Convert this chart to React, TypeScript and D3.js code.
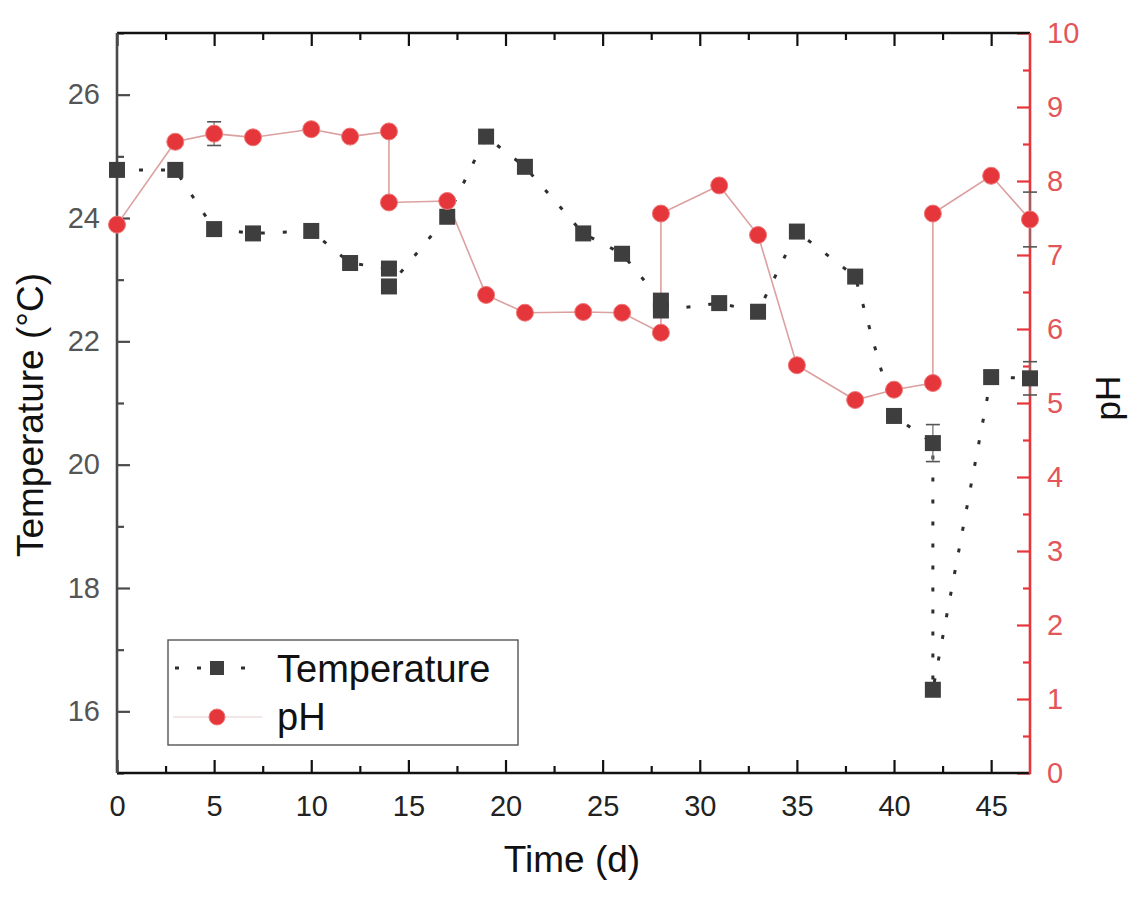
import { useEffect, useRef } from "react";
import * as d3 from "d3";

// days (two readings on days 14, 28 and 42)
const tempDays = [0, 3, 5, 7, 10, 12, 14, 14, 17, 19, 21, 24, 26, 28, 28, 31, 33, 35, 38, 40, 42, 42, 45, 47];
const tempValues = [24.78, 24.78, 23.82, 23.75, 23.79, 23.27, 23.18, 22.89, 24.02, 25.32, 24.83, 23.75, 23.42, 22.66, 22.5, 22.62, 22.48, 23.78, 23.05, 20.79, 20.35, 16.35, 21.42, 21.4];
const tempErrors = [0, 0, 0, 0, 0, 0, 0, 0, 0, 0, 0, 0, 0, 0, 0, 0, 0, 0, 0, 0, 0.3, 0, 0, 0.27];

const phDays = [0, 3, 5, 7, 10, 12, 14, 14, 17, 19, 21, 24, 26, 28, 28, 31, 33, 35, 38, 40, 42, 42, 45, 47];
const phValues = [7.41, 8.53, 8.64, 8.59, 8.7, 8.6, 8.67, 7.71, 7.73, 6.46, 6.22, 6.23, 6.22, 5.95, 7.56, 7.94, 7.27, 5.51, 5.04, 5.18, 5.27, 7.56, 8.07, 7.48];
const phErrors = [0, 0, 0.16, 0, 0, 0, 0, 0, 0, 0, 0, 0, 0, 0, 0, 0, 0, 0, 0, 0, 0, 0, 0, 0.37];

const xTicks = [0, 5, 10, 15, 20, 25, 30, 35, 40, 45];
const xMinorTicks = [2.5, 7.5, 12.5, 17.5, 22.5, 27.5, 32.5, 37.5, 42.5];
const tempTicks = [16, 18, 20, 22, 24, 26];
const tempMinorTicks = [15, 17, 19, 21, 23, 25, 27];
const phTicks = [0, 1, 2, 3, 4, 5, 6, 7, 8, 9, 10];
const phMinorTicks = [0.5, 1.5, 2.5, 3.5, 4.5, 5.5, 6.5, 7.5, 8.5, 9.5];

const legendLabels = ["Temperature", "pH"];

const FONT = "'Liberation Sans', Arial, sans-serif";
const RED = "#e5363c";
const RED_TEXT = "#e2555a";
const LINE_RED = "#dca0a0";
const DARK = "#3e3e3e";

const App: React.FC = () => {
  const svgRef = useRef<SVGSVGElement>(null);

  useEffect(() => {
    document.body.style.margin = "0";
    const width = 1142;
    const height = 901;
    const left = 117;
    const right = 1030;
    const top = 33;
    const bottom = 773;

    const svg = d3.select(svgRef.current).html("");
    svg.attr("width", width).attr("height", height);
    svg.append("rect").attr("width", width).attr("height", height).attr("fill", "#fff");

    const x = d3.scaleLinear().domain([0, 47]).range([left, right]);
    const yT = d3.scaleLinear().domain([15, 27]).range([bottom, top]);
    const yP = d3.scaleLinear().domain([0, 10]).range([bottom, top]);

    const styleAxis = (g: d3.Selection<SVGGElement, unknown, null, undefined>, color: string, textColor: string, size: number) => {
      g.select(".domain").remove();
      g.selectAll(".tick line").attr("stroke", color).attr("stroke-width", 2.2);
      g.selectAll(".tick text")
        .attr("fill", textColor)
        .style("font-family", FONT)
        .style("font-size", `${size}px`);
    };

    // bottom axis
    const gx = svg
      .append("g")
      .attr("transform", `translate(0,${bottom})`)
      .call(d3.axisBottom(x).tickValues(xTicks).tickSize(-13).tickPadding(22).tickFormat((d) => `${d}`));
    styleAxis(gx, "#111", "#222", 29);
    const gxm = svg
      .append("g")
      .attr("transform", `translate(0,${bottom})`)
      .call(d3.axisBottom(x).tickValues(xMinorTicks).tickSize(-7).tickFormat(() => ""));
    styleAxis(gxm, "#111", "#222", 29);

    // top axis (ticks only)
    const gt = svg
      .append("g")
      .attr("transform", `translate(0,${top})`)
      .call(d3.axisTop(x).tickValues(xTicks).tickSize(-13).tickFormat(() => ""));
    styleAxis(gt, "#111", "#222", 29);
    const gtm = svg
      .append("g")
      .attr("transform", `translate(0,${top})`)
      .call(d3.axisTop(x).tickValues(xMinorTicks).tickSize(-7).tickFormat(() => ""));
    styleAxis(gtm, "#111", "#222", 29);

    // left axis (temperature)
    const gl = svg
      .append("g")
      .attr("transform", `translate(${left},0)`)
      .call(d3.axisLeft(yT).tickValues(tempTicks).tickSize(-13).tickPadding(17).tickFormat((d) => `${d}`));
    styleAxis(gl, "#4a4a4a", "#555", 29);
    const glm = svg
      .append("g")
      .attr("transform", `translate(${left},0)`)
      .call(d3.axisLeft(yT).tickValues(tempMinorTicks).tickSize(-7).tickFormat(() => ""));
    styleAxis(glm, "#4a4a4a", "#555", 29);

    // right axis (pH)
    const gr = svg
      .append("g")
      .attr("transform", `translate(${right},0)`)
      .call(d3.axisRight(yP).tickValues(phTicks).tickSize(-13).tickPadding(17).tickFormat((d) => `${d}`));
    styleAxis(gr, RED, RED_TEXT, 29);
    const grm = svg
      .append("g")
      .attr("transform", `translate(${right},0)`)
      .call(d3.axisRight(yP).tickValues(phMinorTicks).tickSize(-7).tickFormat(() => ""));
    styleAxis(grm, RED, RED_TEXT, 29);

    // frame
    svg.append("line").attr("x1", left).attr("x2", right).attr("y1", top).attr("y2", top).attr("stroke", "#111").attr("stroke-width", 2.6);
    svg.append("line").attr("x1", left).attr("x2", right).attr("y1", bottom).attr("y2", bottom).attr("stroke", "#111").attr("stroke-width", 2.6);
    svg.append("line").attr("x1", left).attr("x2", left).attr("y1", top).attr("y2", bottom).attr("stroke", "#4a4a4a").attr("stroke-width", 2.6);
    svg.append("line").attr("x1", right).attr("x2", right).attr("y1", top).attr("y2", bottom + 1.3).attr("stroke", RED).attr("stroke-width", 2.6);

    // axis titles
    svg
      .append("text")
      .attr("transform", `translate(43,415) rotate(-90)`)
      .attr("text-anchor", "middle")
      .style("font-family", FONT)
      .style("font-size", "37px")
      .attr("fill", "#111")
      .text("Temperature (°C)");
    svg
      .append("text")
      .attr("x", 572)
      .attr("y", 872)
      .attr("text-anchor", "middle")
      .style("font-family", FONT)
      .style("font-size", "37px")
      .attr("fill", "#111")
      .text("Time (d)");
    svg
      .append("text")
      .attr("transform", `translate(1120,398) rotate(-90)`)
      .attr("text-anchor", "middle")
      .style("font-family", FONT)
      .style("font-size", "35px")
      .attr("fill", "#111")
      .text("pH");

    const tempData = tempDays.map((d, i) => ({ day: d, value: tempValues[i], err: tempErrors[i] }));
    const phData = phDays.map((d, i) => ({ day: d, value: phValues[i], err: phErrors[i] }));

    const plot = svg.append("g");

    // temperature series: dotted line
    const tempLine = d3
      .line<{ day: number; value: number }>()
      .x((d) => x(d.day))
      .y((d) => yT(d.value));
    plot
      .append("path")
      .datum(tempData)
      .attr("d", tempLine)
      .attr("fill", "none")
      .attr("stroke", "#2e2e2e")
      .attr("stroke-width", 3)
      .attr("stroke-dasharray", "4,18");

    // pH series: thin solid line
    const phLine = d3
      .line<{ day: number; value: number }>()
      .x((d) => x(d.day))
      .y((d) => yP(d.value));
    plot
      .append("path")
      .datum(phData)
      .attr("d", phLine)
      .attr("fill", "none")
      .attr("stroke", LINE_RED)
      .attr("stroke-width", 1.6);

    // error bars
    const errBars = (data: { day: number; value: number; err: number }[], y: d3.ScaleLinear<number, number>) => {
      const withErr = data.filter((d) => d.err > 0);
      withErr.forEach((d) => {
        const cx = x(d.day);
        const y1 = y(d.value + d.err);
        const y2 = y(d.value - d.err);
        plot.append("line").attr("x1", cx).attr("x2", cx).attr("y1", y1).attr("y2", y2).attr("stroke", "#777").attr("stroke-width", 1.3);
        [y1, y2].forEach((yy) =>
          plot.append("line").attr("x1", cx - 7).attr("x2", cx + 7).attr("y1", yy).attr("y2", yy).attr("stroke", "#555").attr("stroke-width", 1.6)
        );
      });
    };
    errBars(tempData, yT);
    errBars(phData, yP);

    // markers
    const sq = 16;
    plot
      .selectAll(".sq")
      .data(tempData)
      .enter()
      .append("rect")
      .attr("class", "sq")
      .attr("x", (d) => x(d.day) - sq / 2)
      .attr("y", (d) => yT(d.value) - sq / 2)
      .attr("width", sq)
      .attr("height", sq)
      .attr("fill", DARK);

    plot
      .selectAll(".dot")
      .data(phData)
      .enter()
      .append("circle")
      .attr("class", "dot")
      .attr("cx", (d) => x(d.day))
      .attr("cy", (d) => yP(d.value))
      .attr("r", 8.5)
      .attr("fill", RED)
      .attr("stroke", "#ef7777")
      .attr("stroke-width", 1);

    // legend
    const lg = svg.append("g");
    lg.append("rect").attr("x", 168).attr("y", 640).attr("width", 350).attr("height", 105).attr("fill", "#fff").attr("stroke", "#555").attr("stroke-width", 1.4);
    lg.append("line").attr("x1", 173).attr("x2", 262).attr("y1", 668).attr("y2", 668).attr("stroke", "#2e2e2e").attr("stroke-width", 3).attr("stroke-dasharray", "4,18").attr("stroke-dashoffset", -2);
    lg.append("rect").attr("x", 217 - 7).attr("y", 668 - 7).attr("width", 14).attr("height", 14).attr("fill", DARK);
    lg.append("line").attr("x1", 173).attr("x2", 262).attr("y1", 717).attr("y2", 717).attr("stroke", "#eedede").attr("stroke-width", 1.4);
    lg.append("circle").attr("cx", 217).attr("cy", 717).attr("r", 8).attr("fill", RED).attr("stroke", "#ef7777").attr("stroke-width", 1);
    lg.selectAll(".lt")
      .data(legendLabels)
      .enter()
      .append("text")
      .attr("class", "lt")
      .attr("x", 277)
      .attr("y", (_, i) => (i === 0 ? 682 : 730))
      .style("font-family", FONT)
      .style("font-size", "38px")
      .attr("fill", "#111")
      .text((d) => d);
  }, []);

  return <svg ref={svgRef} style={{ display: "block" }}></svg>;
};

export default App;
